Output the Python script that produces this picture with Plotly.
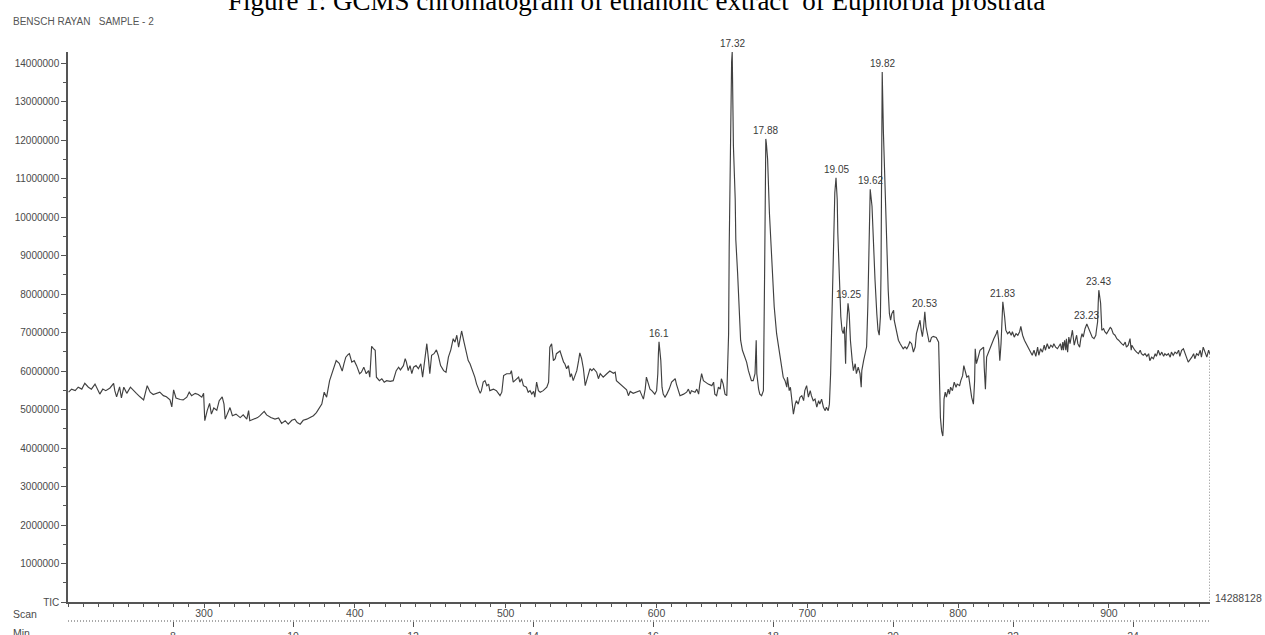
import plotly.graph_objects as go

# ---------------- data ----------------
retention_min = [
    6.26, 6.31, 6.37, 6.42, 6.48, 6.53, 6.59, 6.64, 6.70, 6.76, 6.78, 6.83, 6.88, 6.95, 7.01, 7.03,
    7.06, 7.11, 7.14, 7.18, 7.23, 7.29, 7.34, 7.39, 7.45, 7.51, 7.57, 7.62, 7.67, 7.73, 7.78, 7.84,
    7.89, 7.95, 7.98, 8.01, 8.05, 8.12, 8.17, 8.23, 8.27, 8.31, 8.37, 8.42, 8.48, 8.51, 8.53, 8.57,
    8.61, 8.64, 8.68, 8.73, 8.77, 8.82, 8.85, 8.87, 8.91, 8.95, 8.99, 9.05, 9.12, 9.17, 9.23, 9.26,
    9.28, 9.34, 9.41, 9.45, 9.52, 9.56, 9.63, 9.70, 9.76, 9.81, 9.87, 9.92, 9.98, 10.03, 10.07, 10.12,
    10.17, 10.23, 10.28, 10.34, 10.39, 10.44, 10.48, 10.52, 10.56, 10.61, 10.66, 10.72, 10.77, 10.82,
    10.85, 10.88, 10.92,
    10.94, 10.98, 11.02, 11.06, 11.11, 11.14, 11.18, 11.22, 11.26, 11.28, 11.31, 11.34, 11.37, 11.39,
    11.44, 11.48, 11.52, 11.56, 11.62, 11.67, 11.72, 11.76, 11.79, 11.84, 11.87, 11.89, 11.92, 11.95,
    11.98, 12.01, 12.05, 12.09, 12.13, 12.16, 12.20, 12.23, 12.26, 12.28, 12.31, 12.35, 12.39, 12.42,
    12.46, 12.51, 12.55, 12.59, 12.63, 12.67, 12.70, 12.73, 12.76, 12.78, 12.81, 12.85, 12.88, 12.92,
    12.95, 12.98, 13.01, 13.03, 13.06, 13.09, 13.12, 13.14, 13.17, 13.20, 13.23, 13.26, 13.28, 13.34,
    13.39, 13.45, 13.48, 13.51, 13.56, 13.62, 13.64, 13.67, 13.70, 13.76, 13.78, 13.81, 13.84, 13.89,
    13.92, 13.95, 13.98, 14.01, 14.03, 14.06, 14.09, 14.12, 14.17, 14.23, 14.26, 14.28, 14.31, 14.34,
    14.37, 14.39, 14.45, 14.48, 14.51, 14.53, 14.56, 14.59, 14.62, 14.64, 14.67, 14.70, 14.73, 14.76,
    14.78, 14.81, 14.84, 14.87, 14.89, 14.92, 14.95, 14.98, 15.01, 15.06, 15.09, 15.12, 15.17, 15.23,
    15.28, 15.34, 15.37, 15.39, 15.45, 15.51, 15.56, 15.59, 15.62, 15.67, 15.73, 15.78,
    15.84, 15.87, 15.89, 15.92, 15.95, 15.98, 16.03, 16.06, 16.08, 16.09, 16.10, 16.13, 16.15, 16.17,
    16.20, 16.23, 16.27, 16.31, 16.37, 16.39, 16.42, 16.45, 16.51, 16.56, 16.59, 16.62, 16.64, 16.70,
    16.73, 16.76, 16.78, 16.81, 16.84, 16.87, 16.92, 16.98, 17.01, 17.03, 17.06, 17.09, 17.12, 17.14,
    17.17, 17.20, 17.23, 17.24, 17.26, 17.27, 17.29, 17.31, 17.32, 17.33, 17.34, 17.37, 17.38, 17.41,
    17.43, 17.46, 17.49, 17.53, 17.56, 17.59, 17.62, 17.64, 17.67, 17.70, 17.72, 17.73, 17.76, 17.78,
    17.81, 17.84, 17.86, 17.87, 17.88, 17.89, 17.91, 17.94, 17.98, 18.02, 18.06, 18.11, 18.14, 18.17,
    18.20, 18.23, 18.24, 18.27, 18.29, 18.32, 18.34, 18.37, 18.39, 18.42, 18.45, 18.48, 18.51, 18.53,
    18.56, 18.59, 18.62, 18.64, 18.67, 18.70, 18.73, 18.76, 18.78, 18.81, 18.84, 18.87, 18.89, 18.92,
    18.94, 18.96, 18.98, 18.99, 19.02, 19.03, 19.05, 19.07, 19.08, 19.10, 19.12, 19.13, 19.15, 19.17,
    19.19, 19.21, 19.22, 19.24, 19.25, 19.27, 19.29, 19.32, 19.34, 19.37, 19.39, 19.42, 19.45, 19.47,
    19.48, 19.51, 19.53, 19.56, 19.58, 19.60, 19.61, 19.62, 19.65, 19.67, 19.70, 19.73, 19.75, 19.77,
    19.79, 19.80, 19.81, 19.82, 19.84, 19.87, 19.89, 19.92, 19.94, 19.96, 19.98, 20.01, 20.02, 20.04,
    20.06, 20.09, 20.12, 20.14, 20.17, 20.20, 20.23, 20.26, 20.28, 20.31, 20.34, 20.37, 20.39, 20.42,
    20.44, 20.45, 20.47, 20.49, 20.51, 20.53, 20.55, 20.57, 20.60, 20.62,
    20.64, 20.67, 20.72, 20.76, 20.77, 20.79, 20.81, 20.83, 20.84, 20.85, 20.87, 20.89, 20.92, 20.94,
    20.96, 20.99, 21.02, 21.05, 21.07, 21.11, 21.13, 21.16, 21.18, 21.21, 21.23, 21.26, 21.28, 21.31,
    21.34, 21.36, 21.37, 21.39, 21.42, 21.45, 21.48, 21.51, 21.52, 21.54, 21.56, 21.59, 21.62, 21.64,
    21.68, 21.72, 21.74, 21.76, 21.77, 21.78, 21.80, 21.82, 21.83, 21.86, 21.88, 21.91, 21.94, 21.97,
    21.99, 22.02, 22.05, 22.08, 22.11, 22.13, 22.16, 22.19, 22.22, 22.26, 22.29, 22.32, 22.35, 22.38,
    22.41, 22.43, 22.46, 22.49, 22.52, 22.54, 22.57, 22.60, 22.63, 22.66, 22.68, 22.71, 22.74, 22.77,
    22.79, 22.81, 22.83, 22.84, 22.86, 22.88, 22.89, 22.91, 22.93, 22.95, 22.98, 22.99, 23.02, 23.04,
    23.06, 23.08, 23.11, 23.13, 23.15, 23.17, 23.20, 23.23, 23.26, 23.29, 23.32, 23.35, 23.38, 23.39,
    23.41, 23.42, 23.43, 23.46, 23.48, 23.51, 23.53, 23.56, 23.59, 23.62, 23.64, 23.67, 23.70, 23.73,
    23.76, 23.78, 23.81, 23.84, 23.87, 23.89, 23.92, 23.95, 23.97, 23.98, 24.01, 24.03, 24.06, 24.09,
    24.12, 24.14, 24.17, 24.20, 24.23, 24.26, 24.28, 24.31, 24.34, 24.37, 24.39, 24.42, 24.45, 24.48,
    24.51, 24.53, 24.56, 24.59, 24.62, 24.64, 24.67, 24.70, 24.73, 24.76, 24.78, 24.81, 24.84, 24.87,
    24.89, 24.92, 24.95, 24.98, 25.01, 25.03, 25.06, 25.09, 25.12, 25.14, 25.17, 25.20, 25.23, 25.26,
    25.28,
]

tic_millions = [
    5.45, 5.53, 5.49, 5.58, 5.53, 5.68, 5.58, 5.53, 5.66, 5.47, 5.40, 5.53, 5.49, 5.56, 5.68, 5.49,
    5.33, 5.59, 5.30, 5.58, 5.42, 5.58, 5.49, 5.42, 5.33, 5.25, 5.62, 5.45, 5.39, 5.42, 5.45, 5.36,
    5.33, 5.25, 5.07, 5.51, 5.30, 5.26, 5.25, 5.32, 5.45, 5.36, 5.42, 5.39, 5.32, 5.42, 4.71, 4.97,
    5.16, 4.88, 5.04, 4.98, 5.23, 5.33, 5.14, 4.75, 4.92, 5.05, 4.84, 4.88, 4.79, 4.86, 4.75, 4.97,
    4.71, 4.75, 4.79, 4.84, 4.95, 4.86, 4.79, 4.75, 4.78, 4.64, 4.71, 4.62, 4.72, 4.75, 4.66, 4.62,
    4.72, 4.75, 4.79, 4.84, 4.92, 5.05, 5.14, 5.45, 5.32, 5.75, 6.01, 6.27, 6.20, 6.00,
    6.19, 6.36, 6.43,
    6.45, 6.23, 6.27, 6.14, 5.93, 5.97, 6.10, 5.93, 6.01, 5.84, 6.64, 6.58, 6.54, 5.84,
    5.75, 5.80, 5.71, 5.75, 5.73, 5.75, 6.01, 6.10, 6.03, 6.14, 6.32, 6.23, 6.01, 6.14,
    5.93, 6.10, 6.14, 6.06, 6.19, 5.84, 6.36, 6.71, 6.27, 5.93, 6.41, 6.45, 6.55, 6.41,
    6.14, 6.01, 5.97, 6.36, 6.55, 6.84, 6.75, 6.93, 6.62, 6.80, 7.04, 6.75, 6.54, 6.27,
    6.19, 6.06, 5.97, 5.84, 5.66, 5.53, 5.42, 5.49, 5.71, 5.75, 5.62, 5.66, 5.49, 5.53,
    5.49, 5.36, 5.45, 5.88, 5.93, 5.93, 6.01, 5.71, 5.75, 5.84, 5.71, 5.80, 5.62, 5.58,
    5.45, 5.49, 5.40, 5.47, 5.32, 5.71, 5.49, 5.45, 5.49, 5.58, 5.71, 6.62, 6.71, 6.27,
    6.32, 6.45, 6.52, 6.36, 6.23, 6.19, 6.06, 6.14, 5.84, 5.93, 5.75, 5.88, 6.01, 6.27,
    6.47, 6.32, 6.06, 5.62, 5.75, 5.88, 6.06, 6.01, 6.06, 5.97, 5.80, 5.93, 5.84, 5.93,
    6.00, 5.94, 5.97, 5.75, 5.66, 5.58, 5.51, 5.36, 5.47, 5.42, 5.45, 5.49,
    5.27, 5.53, 5.84, 5.71, 5.53, 5.49, 5.40, 5.49, 5.93, 6.45, 6.76, 6.27, 5.58, 5.40,
    5.32, 5.40, 5.53, 5.71, 5.80, 5.66, 5.49, 5.36, 5.40, 5.45, 5.53, 5.40, 5.49, 5.45,
    5.53, 5.40, 5.66, 5.93, 5.75, 5.71, 5.66, 5.62, 5.71, 5.40, 5.36, 5.58, 5.53, 5.80,
    5.66, 5.40, 5.36, 5.93, 6.97, 9.24, 12.46, 14.03, 14.288128, 13.33, 11.85, 10.46, 9.41, 8.54,
    7.67, 6.80, 6.54, 6.36, 6.23, 6.01, 5.84, 5.75, 5.75, 5.93, 6.80, 5.93, 5.53, 5.40,
    5.36, 5.49, 8.54, 11.15, 12.03, 11.90, 11.50, 10.11, 8.71, 7.67, 6.97, 6.45, 6.10, 5.84,
    5.75, 5.58, 5.84, 5.49, 5.58, 5.23, 4.88, 5.14, 5.23, 5.14, 5.32, 5.36, 5.23, 5.49,
    5.62, 5.32, 5.49, 5.36, 5.23, 5.27, 5.06, 5.23, 5.14, 5.27, 5.06, 4.97, 5.06, 4.97,
    5.14, 5.93, 7.23, 8.54, 9.85, 10.63, 11.02, 10.46, 9.59, 8.54, 7.76, 7.41, 7.06, 6.97,
    7.15, 6.19, 6.97, 7.41, 7.76, 7.49, 6.80, 6.27, 6.01, 6.19, 5.93, 6.10, 5.93, 5.58,
    6.01, 6.27, 6.45, 6.63, 7.67, 9.41, 10.46, 10.72, 10.28, 9.41, 8.37, 7.49, 7.06, 6.93,
    7.41, 8.54, 11.15, 13.77, 12.20, 10.72, 9.24, 8.10, 7.49, 7.32, 7.49, 7.58, 7.32, 7.15,
    6.97, 6.80, 6.71, 6.67, 6.58, 6.63, 6.58, 6.67, 6.76, 6.71, 6.49, 6.63, 6.97, 7.15,
    7.28, 7.32, 7.06, 6.89, 7.15, 7.54, 7.15, 6.97, 6.76, 6.76,
    6.87, 6.90, 6.87, 6.75, 5.75, 4.79, 4.44, 4.31, 4.62, 5.27, 5.45, 5.32, 5.53, 5.40,
    5.58, 5.49, 5.71, 5.58, 5.66, 5.62, 5.75, 5.88, 6.14, 5.93, 5.84, 5.88, 5.66, 5.32,
    5.14, 5.75, 6.58, 6.19, 6.36, 6.54, 6.58, 6.62, 6.10, 5.53, 6.36, 6.49, 6.62, 6.71,
    6.84, 6.97, 7.06, 6.80, 6.62, 6.27, 6.71, 7.23, 7.80, 7.41, 7.06, 6.97, 7.02, 6.93,
    7.02, 6.88, 6.97, 6.93, 7.02, 7.16, 6.93, 6.80, 6.71, 6.58, 6.49, 6.41, 6.54, 6.38,
    6.62, 6.41, 6.58, 6.49, 6.67, 6.54, 6.71, 6.58, 6.67, 6.62, 6.71, 6.62, 6.58, 6.64,
    6.71, 6.54, 6.75, 6.54, 6.80, 6.54, 6.84, 6.49, 6.88, 6.71, 6.97, 7.06, 6.67, 6.80,
    6.93, 6.71, 6.62, 6.84, 6.97, 6.88, 7.10, 7.22, 7.10, 6.97, 6.88, 6.84, 6.93, 7.06,
    7.28, 7.76, 8.10, 7.76, 7.06, 7.10, 7.02, 6.97, 7.06, 7.13, 7.10, 6.97, 6.93, 6.84,
    6.80, 6.75, 6.71, 6.67, 6.75, 6.62, 6.67, 6.84, 6.54, 6.67, 6.58, 6.54, 6.49, 6.45,
    6.54, 6.45, 6.41, 6.45, 6.38, 6.45, 6.27, 6.36, 6.32, 6.45, 6.38, 6.54, 6.41, 6.49,
    6.38, 6.45, 6.41, 6.45, 6.36, 6.49, 6.41, 6.49, 6.45, 6.54, 6.38, 6.54, 6.58, 6.41,
    6.36, 6.23, 6.29, 6.36, 6.45, 6.32, 6.45, 6.41, 6.54, 6.36, 6.62, 6.49, 6.36, 6.54,
    6.45,
]

peak_labels = ["16.1", "17.32", "17.88", "19.05", "19.25", "19.62", "19.82",
               "20.53", "21.83", "23.23", "23.43"]

y_tick_values = [i * 1000000 for i in range(15)]
y_tick_text = ["TIC"] + [str(v) for v in y_tick_values[1:]]
min_ticks = [8, 10, 12, 14, 16, 18, 20, 22, 24]
scan_range = [209.8, 967.0]
min_range = [6.25, 25.283]

title_text = "Figure 1: GCMS chromatogram of ethanolic extract\u00a0 of Euphorbia prostrata"
header_text = "BENSCH RAYAN\u00a0\u00a0 SAMPLE - 2"

# ---------------- figure ----------------
tic = [v * 1e6 for v in tic_millions]
assert len(tic) == len(retention_min)

W, H = 1265, 635
dom_x = [68 / W, 1210 / W]
dom_y = [(H - 602) / H, (H - 51.5) / H]
grey = "#4a4a4a"
axis_col = "#555555"
font_sans = "Liberation Sans, Arial, sans-serif"

fig = go.Figure()
fig.add_trace(go.Scatter(x=retention_min, y=tic, mode="lines",
                         line=dict(color="#404040", width=1.15), hoverinfo="skip",
                         showlegend=False))
# dotted drop line from the last point down to the baseline
fig.add_trace(go.Scatter(x=[retention_min[-1], retention_min[-1]], y=[tic[-1], 0],
                         mode="lines", line=dict(color=axis_col, width=1, dash="1px,2px"),
                         hoverinfo="skip", showlegend=False))
# invisible helper so that the scan axis (x2) is drawn
fig.add_trace(go.Scatter(x=scan_range, y=[0, 0], xaxis="x2", yaxis="y", mode="lines",
                         line=dict(width=0, color="rgba(0,0,0,0)"), hoverinfo="skip",
                         showlegend=False))

annotations = []
for lab in peak_labels:
    t = float(lab)
    idx = min(range(len(retention_min)), key=lambda i: abs(retention_min[i] - t))
    annotations.append(dict(x=retention_min[idx], y=tic[idx], xref="x", yref="y",
                            text=lab, showarrow=False, yanchor="bottom", yshift=1,
                            font=dict(family=font_sans, size=10, color="#3a3a3a")))

annotations += [
    dict(x=0.5028, y=(H - 0.5) / H, xref="paper", yref="paper", text=title_text,
         showarrow=False, xanchor="center", yanchor="middle",
         font=dict(family="Liberation Serif, Times New Roman, serif", size=27, color="#000000")),
    dict(x=11 / W, y=(H - 21.5) / H, xref="paper", yref="paper", text=header_text,
         showarrow=False, xanchor="left", yanchor="middle",
         font=dict(family=font_sans, size=10, color="#555555")),
    dict(x=11 / W, y=(H - 614) / H, xref="paper", yref="paper", text="Scan",
         showarrow=False, xanchor="left", yanchor="middle",
         font=dict(family=font_sans, size=10.5, color=grey)),
    dict(x=11 / W, y=(H - 633) / H, xref="paper", yref="paper", text="Min",
         showarrow=False, xanchor="left", yanchor="middle",
         font=dict(family=font_sans, size=10.5, color=grey)),
    dict(x=1, y=0, xref="x domain", yref="y", text=str(int(round(max(tic)))),
         showarrow=False, xanchor="left", yanchor="middle", xshift=3, yshift=4,
         font=dict(family=font_sans, size=10.5, color=grey)),
]

fig.update_layout(
    template="none",
    width=W, height=H,
    margin=dict(l=0, r=0, t=0, b=0, pad=0),
    paper_bgcolor="white", plot_bgcolor="white",
    showlegend=False,
    xaxis=dict(domain=dom_x, range=min_range, anchor="free", position=(H - 621) / H,
               automargin=False,
               showline=False, showgrid=False, zeroline=False,
               tickmode="array", tickvals=min_ticks, ticks="outside", ticklen=5,
               tickcolor=axis_col, tickwidth=1,
               tickfont=dict(family=font_sans, size=10.5, color=grey)),
    xaxis2=dict(overlaying="x", anchor="y", side="bottom", range=scan_range,
                automargin=False,
                showline=True, linecolor=axis_col, linewidth=1.5,
                showgrid=False, zeroline=False,
                tickmode="linear", tick0=0, dtick=100, ticks="outside", ticklen=4,
                tickcolor=axis_col, tickwidth=1, ticklabelstandoff=-3,
                minor=dict(tickmode="linear", tick0=0, dtick=10, ticks="outside",
                           ticklen=3, tickcolor=axis_col, showgrid=False),
                tickfont=dict(family=font_sans, size=10.5, color=grey)),
    yaxis=dict(domain=dom_y, range=[0, 14.3e6], anchor="x",
               automargin=False,
               showline=True, linecolor=axis_col, linewidth=1.5,
               showgrid=False, zeroline=False,
               tickmode="array", tickvals=y_tick_values, ticktext=y_tick_text,
               ticks="outside", ticklen=5, tickcolor=axis_col, tickwidth=1,
               minor=dict(tickmode="linear", tick0=0, dtick=500000, ticks="outside",
                          ticklen=3, tickcolor=axis_col, showgrid=False),
               tickfont=dict(family=font_sans, size=10, color=grey)),
    annotations=annotations,
    shapes=[dict(type="line", xref="x domain", yref="paper", x0=0, x1=1,
                 y0=(H - 621) / H, y1=(H - 621) / H,
                 line=dict(color=axis_col, width=1, dash="1px,2px"))],
)

fig.write_html("out.html")
